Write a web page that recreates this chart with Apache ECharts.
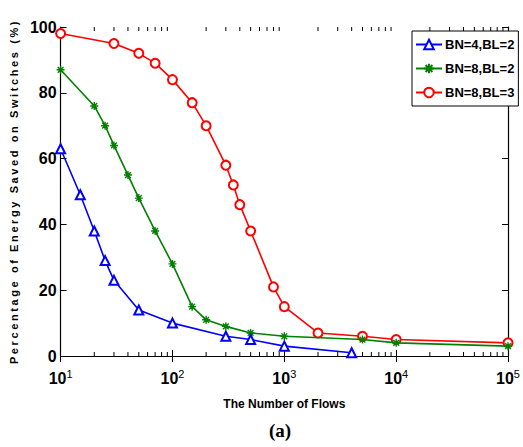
<!DOCTYPE html>
<html><head><meta charset="utf-8">
<script src="https://cdn.jsdelivr.net/npm/echarts@6/dist/echarts.min.js"></script>
<style>html,body{margin:0;padding:0;background:#fff}#c{width:523px;height:447px}</style>
</head><body><div id="c"></div>
<script>
// Data
const seriesNames = ['BN=4,BL=2', 'BN=8,BL=2', 'BN=8,BL=3'];
const blueX = [10, 15, 20, 25, 30, 50, 100, 300, 500, 1000, 4000];
const blueY = [63, 49, 38, 29, 23, 14, 10, 6, 5, 3, 1];
const greenX = [10, 20, 25, 30, 40, 50, 70, 100, 150, 200, 300, 500, 1000, 5000, 10000, 100000];
const greenY = [87, 76, 70, 64, 55, 48, 38, 28, 15, 11, 9, 7, 6, 5, 4, 3];
const redX = [10, 30, 50, 70, 100, 150, 200, 300, 350, 400, 500, 800, 1000, 2000, 5000, 10000, 100000];
const redY = [98, 95, 92, 89, 84, 77, 70, 58, 52, 46, 38, 21, 15, 7, 6, 5, 4];
const yTicks = [0, 20, 40, 60, 80, 100];
const xMajor = [10, 100, 1000, 10000, 100000];
const minorTicks = [];
for (let d = 10; d < 100000; d *= 10) for (let k = 2; k <= 9; k++) minorTicks.push(k * d);

const pair = (xs, ys) => xs.map((x, i) => [x, ys[i]]);
const FONT = "'Liberation Sans Narrow','Liberation Sans',Arial,sans-serif";
const asterisk = 'path://M0,-5L0,5M-5,0L5,0M-3.6,-3.6L3.6,3.6M-3.6,3.6L3.6,-3.6';

const chart = echarts.init(document.getElementById('c'), null, {renderer: 'svg'});
chart.setOption({
  animation: false,
  title: {text: '(a)', left: 264, top: 416, textStyle: {fontFamily: "'Liberation Serif','Times New Roman',serif", fontWeight: 'bold', fontSize: 19, color: '#000'}},
  grid: {left: 46, right: 10, top: 27, bottom: 91, containLabel: false},
  legend: {
    data: seriesNames, orient: 'vertical', left: 412, top: 31,
    padding: [7, 4, 7, 3], itemGap: 11, itemWidth: 26, itemHeight: 12,
    borderColor: '#000', borderWidth: 1, backgroundColor: '#fff',
    textStyle: {fontFamily: FONT, fontWeight: 'bold', fontSize: 13, color: '#000', padding: [0, 0, 0, -2]}
  },
  xAxis: [{
    type: 'log', logBase: 10, min: 10, max: 100000, position: 'bottom',
    name: 'The Number of Flows', nameLocation: 'middle', nameGap: 42,
    nameTextStyle: {fontFamily: FONT, fontWeight: 'bold', fontSize: 12, color: '#000'},
    axisLine: {lineStyle: {color: '#000', width: 1.2}},
    axisTick: {inside: true, length: 6, lineStyle: {color: '#000'}},
    splitLine: {show: false},
    axisLabel: {
      margin: 12, color: '#000',
      formatter: v => '{b|10}{s|' + Math.round(Math.log10(v)) + '}',
      rich: {b: {fontFamily: FONT, fontWeight: 'bold', fontSize: 16, color: '#000'},
             s: {fontFamily: FONT, fontSize: 11, color: '#000', padding: [0, 0, 10, 0]}}
    }
  }, {
    type: 'log', logBase: 10, min: 10, max: 100000, position: 'top',
    axisLine: {lineStyle: {color: '#000', width: 1.2}},
    axisTick: {inside: true, length: 6, lineStyle: {color: '#000'}},
    axisLabel: {show: false}, splitLine: {show: false}
  }],
  yAxis: [{
    type: 'value', min: 0, max: 100, interval: 20,
    name: 'Percentage of Energy Saved on Switches (%)', nameLocation: 'middle', nameGap: 31,
    nameTextStyle: {fontFamily: FONT, fontWeight: 'bold', fontSize: 11, color: '#000'},
    axisLine: {lineStyle: {color: '#000', width: 1.2}},
    axisTick: {inside: true, length: 6, lineStyle: {color: '#000'}},
    splitLine: {show: false},
    axisLabel: {margin: 4, color: '#000', fontFamily: FONT, fontWeight: 'bold', fontSize: 16}
  }, {
    type: 'value', min: 0, max: 100, interval: 20, position: 'right',
    axisLine: {show: true, lineStyle: {color: '#000', width: 1.2}},
    axisTick: {show: true, inside: true, length: 6, lineStyle: {color: '#000'}},
    axisLabel: {show: false}, splitLine: {show: false}
  }],
  series: [
    {name: seriesNames[0], type: 'line', data: pair(blueX, blueY), symbol: 'emptyTriangle', symbolSize: 9,
     lineStyle: {color: '#0000ff', width: 1.6}, itemStyle: {color: '#0000ff', borderWidth: 1.4}, z: 5},
    {name: seriesNames[1], type: 'line', data: pair(greenX, greenY), symbol: asterisk, symbolSize: 8,
     lineStyle: {color: '#008000', width: 1.6}, itemStyle: {color: '#008000', borderColor: '#008000', borderWidth: 1.4}, z: 4},
    {name: seriesNames[2], type: 'line', data: pair(redX, redY), symbol: 'emptyCircle', symbolSize: 9,
     lineStyle: {color: '#ff0000', width: 1.6}, itemStyle: {color: '#ff0000', borderWidth: 1.4}, z: 3},
    {type: 'custom', data: minorTicks.map(v => [v]), silent: true, z: 1,
     renderItem: (params, api) => {
       const v = api.value(0);
       const b = api.coord([v, 0]), t = api.coord([v, 100]);
       return {type: 'group', children: [
         {type: 'line', shape: {x1: b[0], y1: b[1], x2: b[0], y2: b[1] - 4}, style: {stroke: '#000', lineWidth: 1}},
         {type: 'line', shape: {x1: t[0], y1: t[1], x2: t[0], y2: t[1] + 4}, style: {stroke: '#000', lineWidth: 1}}
       ]};
     }}
  ]
});
// letter-spacing for y axis title (as in reference)
setTimeout(() => {
  document.querySelectorAll('#c svg text').forEach(t => {
    if (t.textContent.indexOf('Percentage') === 0) t.setAttribute('letter-spacing', '2.6');
  });
}, 0);
</script></body></html>
